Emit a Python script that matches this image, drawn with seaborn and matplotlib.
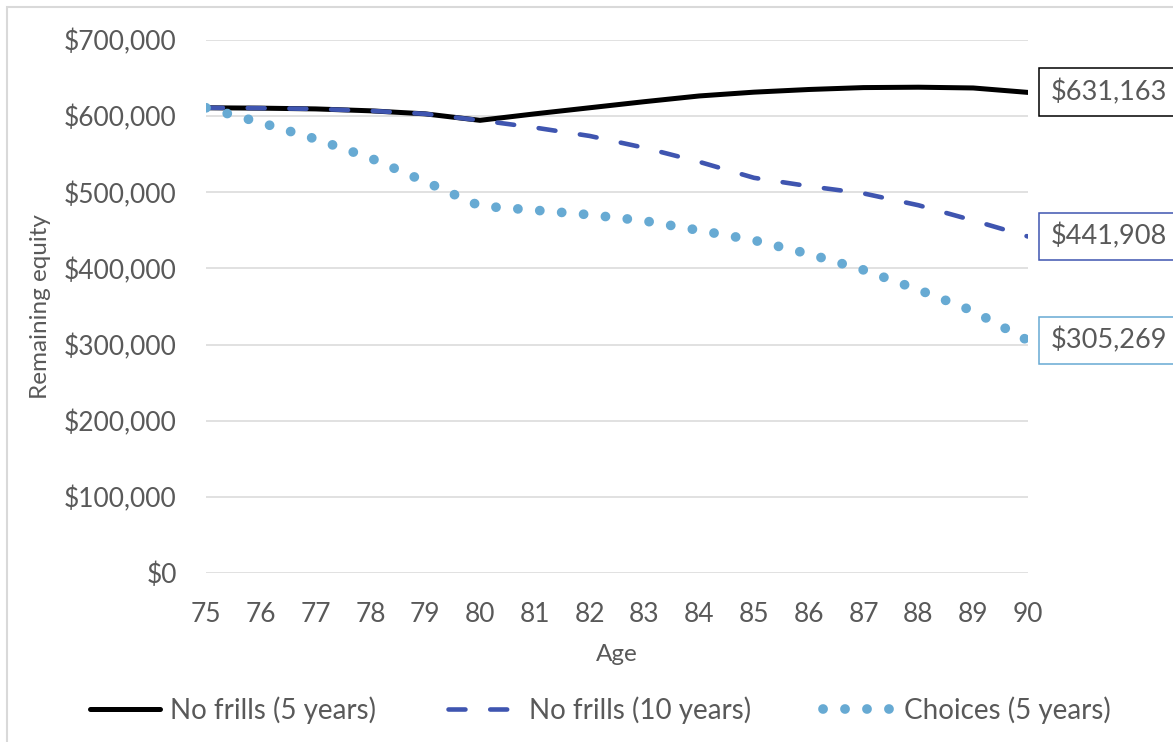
import matplotlib
matplotlib.use("Agg")
import matplotlib.pyplot as plt
import matplotlib.ticker as mticker
from matplotlib.patches import Rectangle
import seaborn as sns
import pandas as pd

# ---- data ----
ages = list(range(75, 91))
no_frills_5 = [611000, 610500, 609500, 607000, 603000, 594500, 603000, 611000,
               619000, 626500, 631500, 635000, 637500, 638000, 637000, 631163]
no_frills_10 = [611000, 610500, 609500, 607000, 603000, 594500, 585000, 574000,
                558500, 540000, 519000, 508000, 498500, 483000, 463000, 441908]
choices_5 = [611000, 591500, 570000, 545000, 514000, 482000, 476500, 470500,
             462500, 450000, 437000, 419000, 398000, 372000, 344000, 305269]
series_names = ["No frills (5 years)", "No frills (10 years)", "Choices (5 years)"]
end_labels = ["$631,163", "$441,908", "$305,269"]
y_ticks = [0, 100000, 200000, 300000, 400000, 500000, 600000, 700000]

BLACK = "#000000"
DBLUE = "#3F55B0"
LBLUE = "#67AAD3"
GRID = "#D9D9D9"
TXT = "#595959"

sns.set_theme(style="white")
plt.rcParams["font.family"] = ["Lato", "DejaVu Sans"]

W, H = 1173, 742
fig = plt.figure(figsize=(W / 100, H / 100), dpi=100)
ax = fig.add_axes([206 / W, 1 - 573 / H, (1028 - 206) / W, (573 - 40) / H])

df = pd.DataFrame({"age": ages, "a": no_frills_5, "b": no_frills_10, "c": choices_5})

sns.lineplot(data=df, x="age", y="a", ax=ax, color=BLACK, linewidth=3.6,
             label=series_names[0])
sns.lineplot(data=df, x="age", y="b", ax=ax, color=DBLUE, linewidth=3.3,
             label=series_names[1])
sns.lineplot(data=df, x="age", y="c", ax=ax, color=LBLUE, linewidth=7.0,
             label=series_names[2])

l1, l2, l3 = ax.lines[:3]
l1.set_solid_capstyle("round")
l2.set_dashes([3.7, 5.4])
l2.set_dash_capstyle("round")
l3.set_dashes([0.01, 2.25])
l3.set_dash_capstyle("round")

l1.set_zorder(3)
l2.set_zorder(4)
l3.set_zorder(5)

ax.set_xlim(75, 90)
ax.set_ylim(0, 700000)
ax.set_xticks(ages)
ax.set_yticks(y_ticks)
ax.yaxis.set_major_formatter(mticker.FuncFormatter(lambda v, p: f"${v:,.0f}"))
ax.grid(axis="y", color=GRID, linewidth=1.1)
ax.grid(axis="x", visible=False)
for s in ax.spines.values():
    s.set_visible(False)
ax.tick_params(axis="both", length=0, labelsize=19, colors=TXT)
ax.tick_params(axis="y", pad=21)
ax.tick_params(axis="x", pad=21)
ax.set_xlabel("Age", fontsize=17.5, color=TXT, labelpad=12)
ax.set_ylabel("Remaining equity", fontsize=17.5, color=TXT, labelpad=9)

leg = ax.get_legend()
handles, labels = ax.get_legend_handles_labels()
leg.remove()
fig.legend(handles, labels, loc="center", bbox_to_anchor=(600 / W, 1 - 710 / H),
           ncol=3, frameon=False, fontsize=20, labelcolor=TXT,
           handlelength=2.55, handletextpad=0.35, columnspacing=2.6)

# end-value boxes
for vals, lab, col in zip([no_frills_5, no_frills_10, choices_5], end_labels,
                          [BLACK, DBLUE, LBLUE]):
    ax.annotate(lab, xy=(ages[-1], vals[-1]), xytext=(16, 0),
                textcoords="offset points", ha="left", va="center",
                fontsize=19.5, color=TXT, annotation_clip=False,
                bbox=dict(boxstyle="square,pad=0.4", fc="white", ec=col, lw=1.1))

# chart-area border (left/top visible)
fig.patches.append(Rectangle((7 / W, -0.5), 2, 1.5 - 7 / H, transform=fig.transFigure,
                             fill=False, edgecolor=GRID, linewidth=1.5))

fig.savefig("out.png", dpi=100, facecolor="white")
